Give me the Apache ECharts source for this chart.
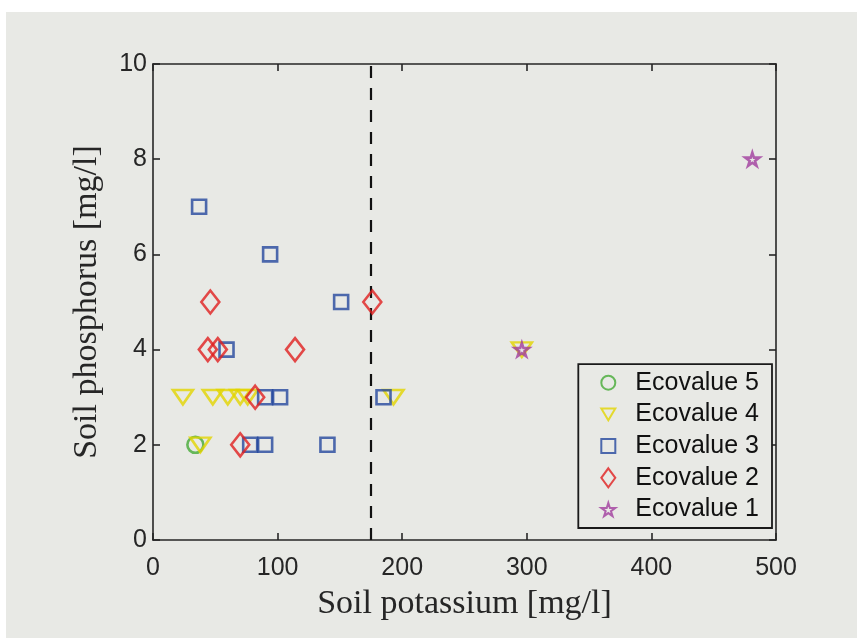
<!DOCTYPE html>
<html>
<head>
<meta charset="utf-8">
<script src="https://cdn.jsdelivr.net/npm/echarts@6/dist/echarts.min.js"></script>
<style>
html,body{margin:0;padding:0;background:#ffffff;}
#chart{width:857px;height:638px;}
</style>
</head>
<body>
<div id="chart"></div>
<script>
// Data (Soil potassium [mg/l], Soil phosphorus [mg/l])
var ecovalue5 = [[34, 2]];
var ecovalue4 = [[24, 3], [48, 3], [60, 3], [70, 3], [76, 3], [193, 3], [38, 2], [296, 4]];
var ecovalue3 = [[37, 7], [94, 6], [151, 5], [59, 4], [90, 3], [102, 3], [185, 3], [78, 2], [90, 2], [140, 2]];
var ecovalue2 = [[46, 5], [176, 5], [44, 4], [52, 4], [114, 4], [82, 3], [70, 2]];
var ecovalue1 = [[296, 4], [481, 8]];
var thresholdK = 175;
var xTicks = [0, 100, 200, 300, 400, 500];
var yTicks = [0, 2, 4, 6, 8, 10];

var chart = echarts.init(document.getElementById('chart'), null, {renderer: 'canvas'});
var axisColor = '#262626';
var serif = '"Liberation Serif", "DejaVu Serif", serif';
var sans = '"Liberation Sans", Arial, sans-serif';

function hollow(color) {
  return {color: 'rgba(0,0,0,0)', borderColor: color, borderWidth: 2.6};
}
var triDown = 'path://M0,0 L20,0 L10,17 Z';
var square = 'path://M0,0 L10,0 L10,10 L0,10 Z';
var star = 'path://M50,0 L61,35 L98,35 L68,57 L79,91 L50,70 L21,91 L32,57 L2,35 L39,35 Z';

var baseX = {
  type: 'value', min: xTicks[0], max: xTicks[xTicks.length - 1], interval: 100,
  splitLine: {show: false},
  axisLine: {show: true, onZero: false, lineStyle: {color: axisColor, width: 1.6}},
  axisTick: {show: true, inside: true, length: 7, lineStyle: {color: axisColor, width: 1.6}}
};
var baseY = {
  type: 'value', min: yTicks[0], max: yTicks[yTicks.length - 1], interval: 2,
  splitLine: {show: false},
  axisLine: {show: true, onZero: false, lineStyle: {color: axisColor, width: 1.6}},
  axisTick: {show: true, inside: true, length: 7, lineStyle: {color: axisColor, width: 1.6}}
};

var option = {
  backgroundColor: 'transparent',
  animation: false,
  graphic: [{
    type: 'rect', z: -10, silent: true,
    shape: {x: 6, y: 12, width: 851, height: 626},
    style: {fill: '#e8e9e5'}
  }],
  grid: {left: 153, right: 81, top: 64, bottom: 98, containLabel: false},
  xAxis: [
    Object.assign({}, baseX, {
      position: 'bottom',
      axisLabel: {show: true, margin: 16, color: axisColor, fontFamily: sans, fontSize: 25},
      name: 'Soil potassium [mg/l]', nameLocation: 'middle', nameGap: 47,
      nameTextStyle: {color: axisColor, fontFamily: serif, fontSize: 34}
    }),
    Object.assign({}, baseX, {position: 'top', axisLabel: {show: false}})
  ],
  yAxis: [
    Object.assign({}, baseY, {
      position: 'left',
      axisLabel: {show: true, margin: 6, color: axisColor, fontFamily: sans, fontSize: 25},
      name: 'Soil phosphorus [mg/l]', nameLocation: 'middle', nameGap: 49,
      nameTextStyle: {color: axisColor, fontFamily: serif, fontSize: 34}
    }),
    Object.assign({}, baseY, {position: 'right', axisLabel: {show: false}})
  ],
  legend: {
    orient: 'vertical', right: 85, bottom: 110,
    data: ['Ecovalue 5', 'Ecovalue 4', 'Ecovalue 3', 'Ecovalue 2', 'Ecovalue 1'],
    backgroundColor: '#e8e9e5', borderColor: '#1a1a1a', borderWidth: 1.8, borderRadius: 0,
    padding: [6, 13, 6, 22],
    itemWidth: 14, itemHeight: 19, itemGap: 6.7,
    textStyle: {color: '#111', fontFamily: sans, fontSize: 25, padding: [0, 0, 0, 15]}
  },
  series: [
    {name: 'Ecovalue 5', type: 'scatter', data: ecovalue5, symbol: 'circle', symbolSize: 16,
     itemStyle: hollow('#45aa36'), z: 2},
    {name: 'Ecovalue 4', type: 'scatter', data: ecovalue4, symbol: triDown, symbolSize: [20, 17],
     symbolKeepAspect: true, itemStyle: hollow('#e2d400'), z: 3},
    {name: 'Ecovalue 3', type: 'scatter', data: ecovalue3, symbol: square, symbolSize: 14,
     symbolKeepAspect: true, itemStyle: hollow('#24479e'), z: 4},
    {name: 'Ecovalue 2', type: 'scatter', data: ecovalue2, symbol: 'diamond', symbolSize: [18, 23],
     itemStyle: hollow('#e01f1f'), z: 5},
    {name: 'Ecovalue 1', type: 'scatter', data: ecovalue1, symbol: star, symbolSize: 14,
     symbolKeepAspect: true, itemStyle: hollow('#a03c9e'), z: 6,
     markLine: {
       silent: true, symbol: ['none', 'none'], label: {show: false},
       lineStyle: {color: '#111', type: [12, 10], width: 2.2},
       data: [{xAxis: thresholdK}]
     }}
  ]
};
chart.setOption(option);
</script>
</body>
</html>
